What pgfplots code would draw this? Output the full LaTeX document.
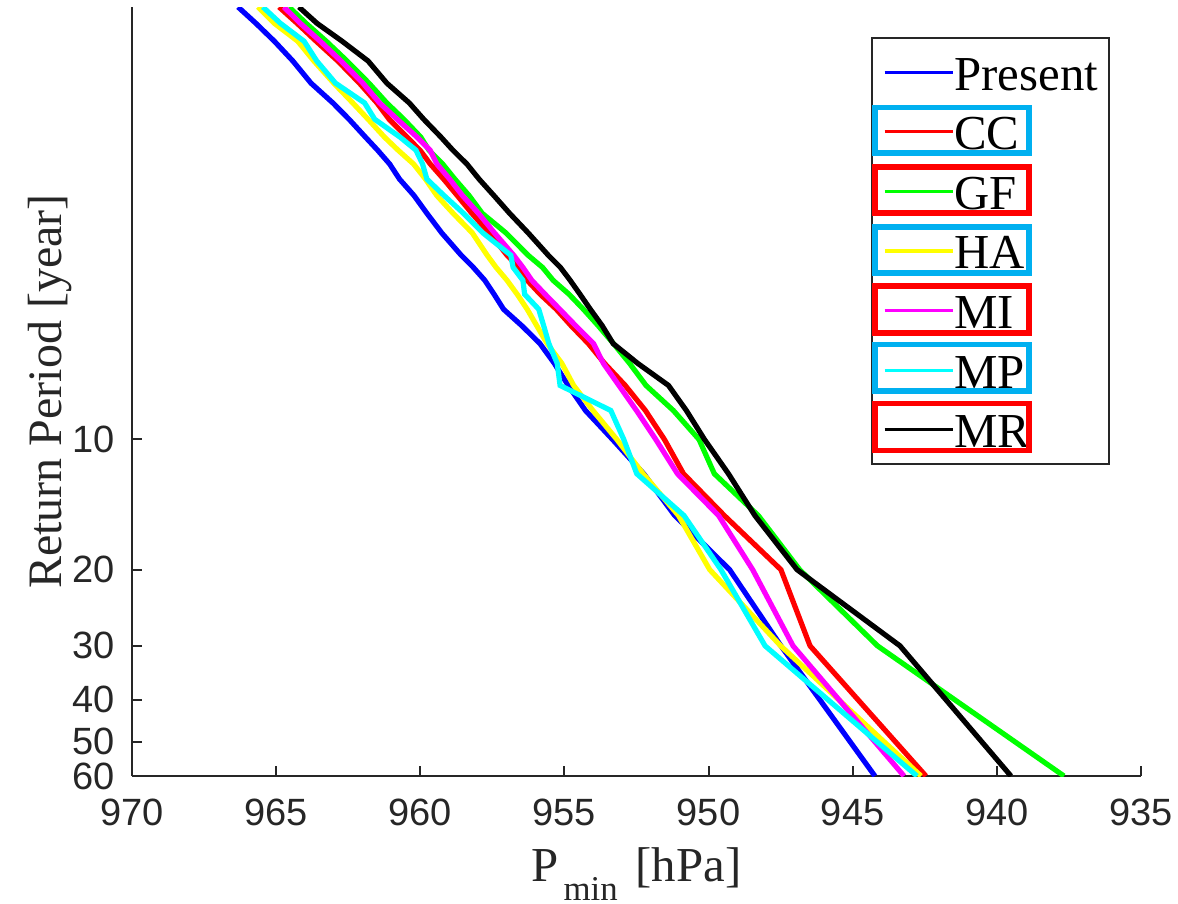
\documentclass[border=0pt]{standalone}
\usepackage{fontspec}
\setmainfont{Liberation Serif}
\setsansfont{Liberation Sans}
\usepackage{pgfplots}
\usepackage{pgfplotstable}
\pgfplotsset{compat=1.18}

\definecolor{axgray}{rgb}{0.15,0.15,0.15}
\definecolor{boxcyan}{RGB}{0,176,240}
\definecolor{mblue}{rgb}{0,0,1}
\definecolor{mred}{rgb}{1,0,0}
\definecolor{mgreen}{rgb}{0,1,0}
\definecolor{myellow}{rgb}{1,1,0}
\definecolor{mmagenta}{rgb}{1,0,1}
\definecolor{mcyan}{rgb}{0,1,1}

% return period (60/k) and Pmin of each run [hPa]
\pgfplotstableread{
T      Present CC     GF     HA     MI     MP     MR
1.000  966.32  964.90 964.55 965.63 964.73 965.46 964.21
1.091  965.70  964.27 963.96 965.06 964.16 964.85 963.58
1.200  965.06  963.61 963.26 964.25 963.47 964.03 962.71
1.333  964.42  962.86 962.54 963.69 962.75 963.59 961.81
1.500  963.79  962.11 961.78 963.00 961.99 962.94 961.16
1.667  963.03  961.50 961.16 962.34 961.41 961.93 960.38
1.818  962.47  961.08 960.57 961.81 960.80 961.58 959.88
2.000  961.90  960.46 959.98 961.24 960.11 960.70 959.28
2.143  961.48  960.01 959.70 960.77 959.66 960.15 958.87
2.308  961.06  959.65 959.22 960.23 959.42 959.92 958.38
2.500  960.72  959.19 958.80 959.82 958.98 959.77 957.96
2.727  960.22  958.72 958.31 959.43 958.54 959.18 957.45
3.000  959.77  958.21 957.85 958.86 957.98 958.50 956.90
3.333  959.25  957.60 957.02 958.19 957.42 957.82 956.25
3.750  958.58  956.99 956.26 957.68 956.76 956.86 955.56
4.000  958.16  956.56 955.76 957.37 956.44 956.78 955.14
4.286  957.76  956.29 955.39 956.99 956.13 956.44 954.80
4.615  957.44  955.84 954.84 956.64 955.67 956.38 954.46
5.000  957.11  955.28 954.34 956.29 955.16 955.89 954.10
5.455  956.48  954.77 953.83 955.96 954.61 955.72 953.69
6.000  955.85  954.17 953.30 955.60 953.99 955.54 953.31
6.667  955.35  953.61 952.74 955.09 953.65 955.25 952.46
7.500  954.87  952.89 952.17 954.68 953.11 955.15 951.39
8.571  954.27  952.19 951.22 954.01 952.50 953.39 950.77
10.00  953.33  951.53 950.33 953.18 951.83 952.94 950.14
12.00  952.25  950.87 949.80 952.27 951.08 952.49 949.31
15.00  951.17  949.45 948.27 951.04 949.65 950.85 948.39
20.00  949.27  947.49 946.84 949.96 948.47 949.57 946.93
30.00  947.49  946.48 944.14 947.50 947.07 948.04 943.36
60.00  944.23  942.46 937.67 942.63 943.22 942.77 939.51
}\rp

\begin{document}
\begin{tikzpicture}
\useasboundingbox (-33pt,-31.75pt) rectangle (261.5pt,194pt);
\begin{axis}[
    name=ax,
    scale only axis,
    width=252.25pt, height=192.25pt,
    x dir=reverse, xmin=935, xmax=970,
    ymode=log, y dir=reverse, ymin=1, ymax=60,
    enlargelimits=false,
    axis x line*=bottom, axis y line*=left,
    axis line style={axgray, line width=0.5pt},
    xtick={935,940,945,950,955,960,965,970},
    xticklabels={935,940,945,950,955,960,965,970},
    ytick={10,20,30,40,50,60},
    yticklabels={10,20,30,40,50,60},
    minor ytick={},
    tick align=inside,
    major tick length=2.5pt,
    tick style={axgray, line width=0.5pt},
    ticklabel style={font=\sffamily\fontsize{9.5}{11}\selectfont, text=axgray},
    xticklabel style={yshift=-2.25pt},
    yticklabel style={xshift=-0.75pt},
    xlabel={P\hspace{1.2pt}\raisebox{-4.6pt}{\fontsize{8.7}{10}\selectfont min}\hspace{4.5pt}[hPa]},
    xlabel style={at={(axis description cs:0.5,-0.1378)}, anchor=base,
        font=\fontsize{12.2}{14}\selectfont, text=axgray},
    ylabel={Return Period [year]},
    ylabel style={at={(axis description cs:-0.0694,0.5)}, anchor=base,
        font=\fontsize{12}{14}\selectfont, text=axgray},
    legend style={name=leg, at={(axis description cs:0.9693,0.961)}, anchor=north east,
        draw=axgray, line width=0.5pt, fill=white,
        font=\fontsize{12.2}{14}\selectfont,
        inner xsep=2.75pt, inner ysep=1.1pt, row sep=0pt,
        nodes={inner sep=0pt, text height=11.9pt, text depth=3pt}},
    legend cell align=left,
    legend image code/.code={\draw[#1, line width=0.8pt] (0pt,0pt) -- (17pt,0pt);},
]
\addplot[mblue, line width=1.3pt] table[x=Present, y=T]{\rp};
\addlegendentry{Present}
\addplot[mred, line width=1.3pt] table[x=CC, y=T]{\rp};
\addlegendentry{CC}
\addplot[mgreen, line width=1.3pt] table[x=GF, y=T]{\rp};
\addlegendentry{GF}
\addplot[myellow, line width=1.3pt] table[x=HA, y=T]{\rp};
\addlegendentry{HA}
\addplot[mmagenta, line width=1.3pt] table[x=MI, y=T]{\rp};
\addlegendentry{MI}
\addplot[mcyan, line width=1.3pt] table[x=MP, y=T]{\rp};
\addlegendentry{MP}
\addplot[black, line width=1.3pt] table[x=MR, y=T]{\rp};
\addlegendentry{MR}
\end{axis}

% highlight boxes round the legend entries
\draw[boxcyan, line width=1.4pt] (185.8pt,155.8pt) rectangle (224.2pt,167.1pt);
\draw[mred, line width=1.4pt] (185.8pt,140.7pt) rectangle (224.2pt,152.3pt);
\draw[boxcyan, line width=1.4pt] (185.8pt,125.7pt) rectangle (224.2pt,137.3pt);
\draw[mred, line width=1.4pt] (185.8pt,110.8pt) rectangle (224.2pt,122.5pt);
\draw[boxcyan, line width=1.4pt] (185.8pt,96.2pt) rectangle (224.2pt,107.9pt);
\draw[mred, line width=1.4pt] (185.8pt,81.4pt) rectangle (224.2pt,93.1pt);
\end{tikzpicture}
\end{document}
